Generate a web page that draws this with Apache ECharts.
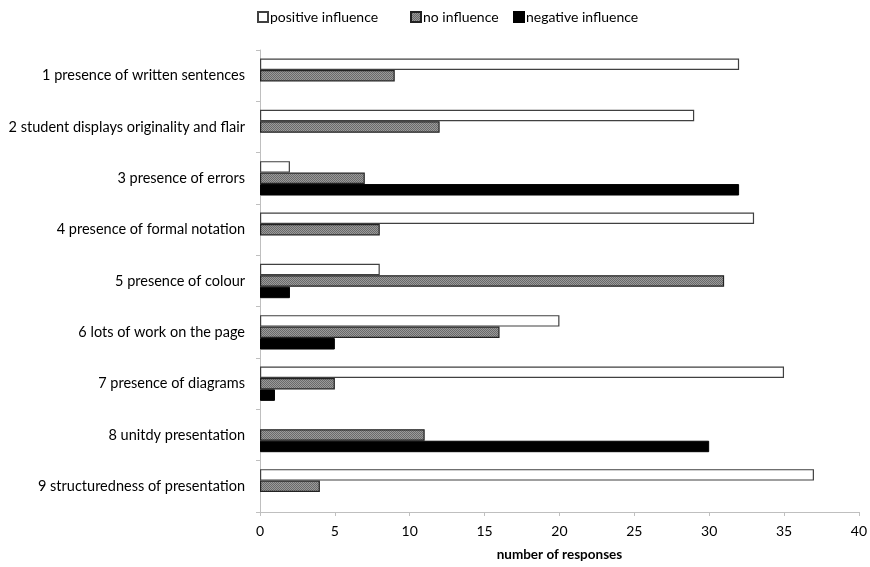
<!DOCTYPE html>
<html><head><meta charset="utf-8">
<script src="https://cdn.jsdelivr.net/npm/echarts@6/dist/echarts.min.js"></script>
<style>html,body{margin:0;padding:0;background:#fff}#c{width:870px;height:567px}</style>
</head><body><div id="c"></div>
<script>
const categories = [
  '1 presence of written sentences',
  '2 student displays originality and flair',
  '3 presence of errors',
  '4 presence of formal notation',
  '5 presence of colour',
  '6 lots of work on the page',
  '7 presence of diagrams',
  '8 unitdy presentation',
  '9 structuredness of presentation'
];
const seriesNames = ['positive influence', 'no influence', 'negative influence'];
const positiveInfluence = [32, 29, 2, 33, 8, 20, 35, 0, 37];
const noInfluence = [9, 12, 7, 8, 31, 16, 5, 11, 4];
const negativeInfluence = [0, 0, 32, 0, 2, 5, 1, 30, 0];
const xTicks = {min: 0, max: 40, interval: 5};

// zero-length bars are not drawn in the reference
const hideZero = arr => arr.map(v => v === 0 ? null : v);

const pc = document.createElement('canvas');
pc.width = 4; pc.height = 4;
const g = pc.getContext('2d');
g.fillStyle = '#9a9a9a'; g.fillRect(0,0,4,4);
g.fillStyle = '#6a6a6a';
g.fillRect(0,0,1,1); g.fillRect(2,0,1,1); g.fillRect(1,1,1,1); g.fillRect(3,1,1,1);
g.fillRect(0,2,1,1); g.fillRect(2,2,1,1); g.fillRect(1,3,1,1); g.fillRect(3,3,1,1);
const pattern = {image: pc, repeat: 'repeat'};

const FONT = 'Lato';
const legendLefts = [252, 405, 508];
const chart = echarts.init(document.getElementById('c'));
chart.setOption({
  animation: false,
  textStyle: {fontFamily: FONT},
  legend: seriesNames.map((n, i) => ({
    top: 5, left: legendLefts[i],
    itemWidth: 10, itemHeight: 10,
    icon: 'rect',
    textStyle: {fontFamily: FONT, fontSize: 14, color: '#000', padding: [0,0,0,-3]},
    data: [n]
  })),
  grid: {left: 260, right: 11, top: 50, bottom: 52, containLabel: false},
  xAxis: {
    type: 'value', min: xTicks.min, max: xTicks.max, interval: xTicks.interval,
    name: 'number of responses', nameLocation: 'middle', nameGap: 36,
    nameTextStyle: {fontFamily: FONT, fontSize: 13.5, fontWeight: 'bold', color: '#000'},
    axisLine: {show: true, lineStyle: {color: '#bfbfbf', width: 1}},
    axisTick: {show: true, length: 4, lineStyle: {color: '#bfbfbf'}},
    axisLabel: {fontFamily: FONT, fontSize: 14, color: '#000', margin: 12},
    splitLine: {show: false}
  },
  yAxis: {
    type: 'category', data: categories, inverse: true,
    axisLine: {show: true, lineStyle: {color: '#bfbfbf', width: 1}},
    axisTick: {show: true, length: 4, lineStyle: {color: '#bfbfbf'}},
    axisLabel: {fontFamily: FONT, fontSize: 14.5, color: '#000', margin: 15}
  },
  series: [
    {name: seriesNames[0], type: 'bar', data: hideZero(positiveInfluence),
     barGap: '0%', barCategoryGap: '33%',
     itemStyle: {color: '#fff', borderColor: '#404040', borderWidth: 1.2}},
    {name: seriesNames[1], type: 'bar', data: hideZero(noInfluence),
     itemStyle: {color: pattern, borderColor: '#222', borderWidth: 1.2}},
    {name: seriesNames[2], type: 'bar', data: hideZero(negativeInfluence),
     itemStyle: {color: '#000', borderColor: '#000', borderWidth: 1}}
  ]
});
</script></body></html>
